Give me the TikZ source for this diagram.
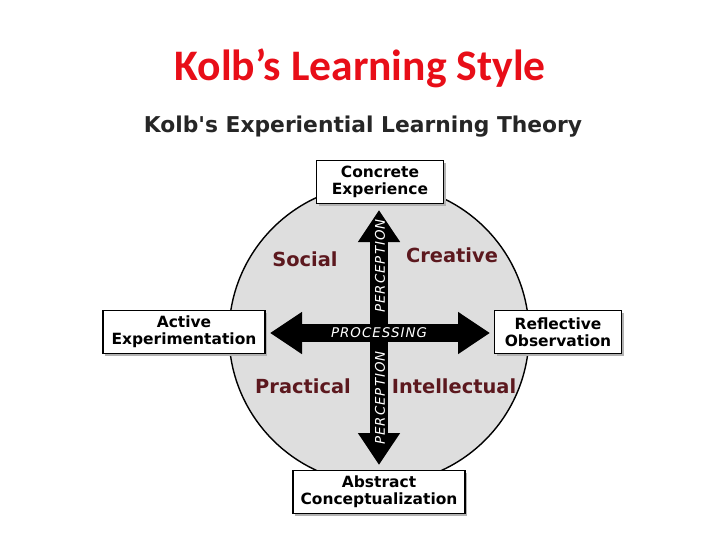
\documentclass[tikz,border=0pt]{standalone}
\usepackage{fontspec}
\setmainfont{DejaVu Sans}[Ligatures=TeXOff]
\newfontfamily\titlefont{Carlito}
\usetikzlibrary{arrows.meta,shadows}

\definecolor{kolbred}{RGB}{232,14,24}
\definecolor{quadred}{RGB}{92,24,30}
\definecolor{discgray}{RGB}{222,222,222}

\tikzset{
    % Stage boxes - white with a soft shadow
    stage/.style={draw=black, line width=0.9pt, fill=white, align=center,
        font=\fontsize{11}{12}\selectfont\bfseries, inner xsep=4pt,
        minimum height=1.08cm,
        drop shadow={shadow xshift=1.5pt, shadow yshift=-1.5pt, fill=black!30, opacity=1}},
    % Quadrant labels - dark red
    quad label/.style={font=\fontsize{13.8}{15}\selectfont\bfseries, text=quadred},
    % Big black double arrows
    big arrow/.style={line width=0.45cm, black,
        {Triangle[length=0.8cm,width=1cm]}-{Triangle[length=0.8cm,width=1cm]}},
    axis label/.style={text=white, inner sep=0pt,
        font=\fontsize{9.5}{10}\selectfont\itshape\addfontfeatures{LetterSpace=8}},
}

\begin{document}
\begin{tikzpicture}[x=0.025cm, y=-0.025cm]
    \useasboundingbox (0,0) rectangle (720,540);

    % Titles
    \node[font=\titlefont\fontsize{31}{36}\selectfont\bfseries, text=kolbred] (title) at (360,68) {Kolb’s Learning Style};
    \node[font=\fontsize{15.5}{17}\selectfont\bfseries, text=black!85] (subtitle) at (363,127) {Kolb's Experiential Learning Theory};

    % Disc
    \draw[line width=1pt, fill=discgray] (379,334) circle[radius=3.75cm];

    % Arrows
    \coordinate (ptop) at (379,210);
    \coordinate (pbot) at (379,465);
    \coordinate (pleft) at (270,333);
    \coordinate (pright) at (490,333);
    \draw[big arrow] (pbot) -- (ptop);
    \draw[big arrow] (pleft) -- (pright);
    \node[axis label, rotate=90] (perc up) at (380,266) {PERCEPTION};
    \node[axis label, rotate=90] (perc down) at (380,398) {PERCEPTION};
    \node[axis label] (proc) at (379,333) {PROCESSING};

    % Stage boxes
    \node[stage, minimum width=3.175cm] (ce) at (380,182) {Concrete\\Experience};
    \node[stage, minimum width=4.05cm] (ae) at (184,332) {Active\\Experimentation};
    \node[stage, minimum width=3.175cm] (ro) at (558,332) {Reflective\\Observation};
    \node[stage, minimum width=4.3cm] (ac) at (379,492) {Abstract\\Conceptualization};

    % Quadrants
    \node[quad label] (social) at (305,259) {Social};
    \node[quad label] (creative) at (452,255) {Creative};
    \node[quad label] (practical) at (303,386) {Practical};
    \node[quad label] (intellectual) at (454,386) {Intellectual};
\end{tikzpicture}
\end{document}
